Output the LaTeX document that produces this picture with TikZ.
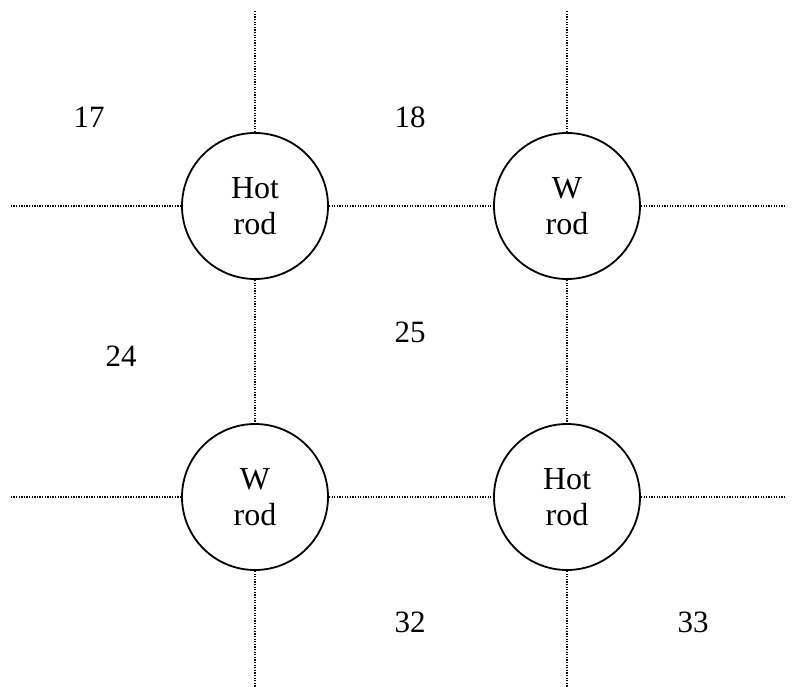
\documentclass[tikz,border=0pt]{standalone}
\usepackage{fontspec}
\setmainfont{Liberation Serif}
\begin{document}
\begin{tikzpicture}[x=1pt,y=-1pt,
  rod/.style={circle,draw,line width=1.8pt,minimum size=146pt,inner sep=0pt,align=center,font=\fontsize{32}{36}\selectfont},
  lbl/.style={font=\fontsize{31}{35}\selectfont,inner sep=0pt},
  grid/.style={line width=1.3pt,dash pattern=on 1.3pt off 1.3pt}]
\useasboundingbox (0,0) rectangle (795,687);
\node[rod] (a) at (255,206) {Hot\\rod};
\node[rod] (b) at (567,206) {W\\rod};
\node[rod] (c) at (255,497) {W\\rod};
\node[rod] (d) at (567,497) {Hot\\rod};
\coordinate (at) at (255,10);
\coordinate (bt) at (567,10);
\coordinate (cb) at (255,687);
\coordinate (db) at (567,687);
\coordinate (al) at (10,206);
\coordinate (br) at (785,206);
\coordinate (cl) at (10,497);
\coordinate (dr) at (785,497);
\draw[grid] (a.north) -- (at);
\draw[grid] (b.north) -- (bt);
\draw[grid] (c.south) -- (cb);
\draw[grid] (d.south) -- (db);
\draw[grid] (a.west) -- (al);
\draw[grid] (b.east) -- (br);
\draw[grid] (c.west) -- (cl);
\draw[grid] (d.east) -- (dr);
\draw[grid] (a.east) -- (b.west);
\draw[grid] (c.east) -- (d.west);
\draw[grid] (a.south) -- (c.north);
\draw[grid] (b.south) -- (d.north);
\node[lbl] (l17) at (89,117) {17};
\node[lbl] (l18) at (410,117) {18};
\node[lbl] (l24) at (121,356) {24};
\node[lbl] (l25) at (410,332) {25};
\node[lbl] (l32) at (410,622) {32};
\node[lbl] (l33) at (693,622) {33};
\end{tikzpicture}
\end{document}
